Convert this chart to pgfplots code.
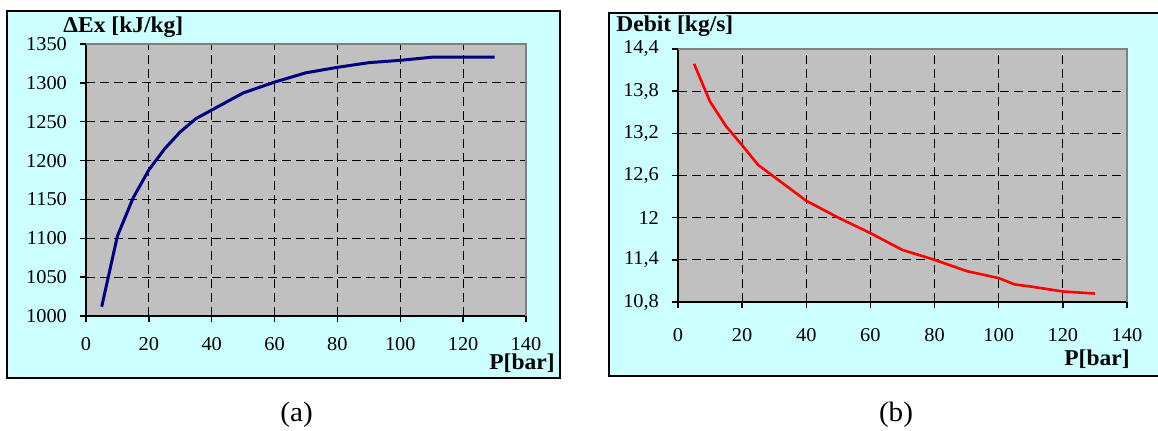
\documentclass[border=0pt]{standalone}
\usepackage{fontspec}
\setmainfont{Liberation Serif}
\usepackage{graphicx}
\usepackage{pgfplots}
\pgfplotsset{compat=1.18}
\definecolor{bgcyan}{HTML}{CCFFFF}
\definecolor{plotgray}{HTML}{C0C0C0}
\definecolor{bordergray}{HTML}{808080}
\definecolor{navyline}{HTML}{000080}
\newcommand{\sx}[1]{\scalebox{1.04}[1]{#1}}
\newcommand{\tickfont}{\fontsize{9.8pt}{11pt}\selectfont}
\newcommand{\titlefont}{\fontsize{11.3pt}{13pt}\selectfont\bfseries}

\pgfplotstableread{
x y
5 1012
10 1103
15 1152
20 1188
25 1215
30 1237
35 1254
40 1265
50 1287
60 1301
70 1313
80 1320
90 1326
100 1329
110 1333
120 1333
130 1333
}\exergy

\pgfplotstableread{
x y
5 14.19
10 13.65
15 13.30
20 13.03
25 12.75
30 12.58
35 12.41
40 12.24
50 12.00
60 11.78
70 11.54
80 11.40
90 11.24
100 11.14
105 11.05
110 11.02
120 10.95
130 10.92
}\debit

\pgfplotsset{excelstyle/.style={
  scale only axis,
  anchor=south west,
  xmin=0, xmax=140,
  axis x line*=bottom, axis y line*=left,
  axis line style={-,black,line width=0.9pt},
  axis background/.style={fill=plotgray},
  tick align=outside,
  major tick length=3pt,
  tick style={black,line width=0.7pt},
  grid=major,
  major grid style={black,line width=0.5pt,dash pattern=on 4.5pt off 2.5pt},
  xtick={0,20,40,60,80,100,120,140},
  xticklabels={\sx{0},\sx{20},\sx{40},\sx{60},\sx{80},\sx{100},\sx{120},\sx{140}},
  tick label style={font=\tickfont},
  yticklabel style={xshift=-3pt},
  clip=false,
}}

\begin{document}
\begin{tikzpicture}
\useasboundingbox (0,0) rectangle (579pt,-215pt);
% frames
\draw[fill=bgcyan, line width=1pt] (3.5pt,-5.5pt) rectangle (280pt,-189pt);
\fill[bgcyan] (304.5pt,-6.35pt) rectangle (580pt,-188pt);
\draw[line width=1pt] (580pt,-6.35pt) -- (304.5pt,-6.35pt) -- (304.5pt,-188pt) -- (580pt,-188pt);

% left chart
\begin{axis}[excelstyle,
  at={(43pt,-158pt)},
  width=220pt, height=136pt,
  ymin=1000, ymax=1350,
  ytick={1000,1050,1100,1150,1200,1250,1300,1350},
  yticklabels={\sx{1000},\sx{1050},\sx{1100},\sx{1150},\sx{1200},\sx{1250},\sx{1300},\sx{1350}},
  xticklabel style={yshift=-4.3pt},
]
\draw[bordergray,line width=1pt] (rel axis cs:0,1) -- (rel axis cs:1,1) -- (rel axis cs:1,0);
\addplot[navyline, line width=1.5pt, line join=round] table[x=x,y=y] {\exergy};
\end{axis}

% right chart
\begin{axis}[excelstyle,
  at={(339pt,-151pt)},
  width=224.5pt, height=126.5pt,
  ymin=10.8, ymax=14.4,
  ytick={10.8,11.4,12,12.6,13.2,13.8,14.4},
  yticklabels={\sx{10,8},\sx{11,4},\sx{12},\sx{12,6},\sx{13,2},\sx{13,8},\sx{14,4}},
  xticklabel style={yshift=-6.5pt},
]
\draw[bordergray,line width=1pt] (rel axis cs:0,1) -- (rel axis cs:1,1) -- (rel axis cs:1,0);
\addplot[red, line width=1.3pt, line join=round] table[x=x,y=y] {\debit};
\end{axis}

% titles
\node[anchor=base west, inner sep=0pt, font=\titlefont] at (31.5pt,-16.3pt) {\sx{ΔEx [kJ/kg]}};
\node[anchor=base west, inner sep=0pt, font=\titlefont] at (308pt,-15.8pt) {\sx{Debit [kg/s]}};
\node[anchor=base east, inner sep=0pt, font=\titlefont] at (277.5pt,-184.8pt) {\sx{P[bar]}};
\node[anchor=base east, inner sep=0pt, font=\titlefont] at (565pt,-182.5pt) {\sx{P[bar]}};
\node[anchor=base, inner sep=0pt, font=\fontsize{14pt}{16pt}\selectfont] at (148.3pt,-210.8pt) {\sx{(a)}};
\node[anchor=base, inner sep=0pt, font=\fontsize{14pt}{16pt}\selectfont] at (448pt,-210.8pt) {\sx{(b)}};
\end{tikzpicture}
\end{document}
